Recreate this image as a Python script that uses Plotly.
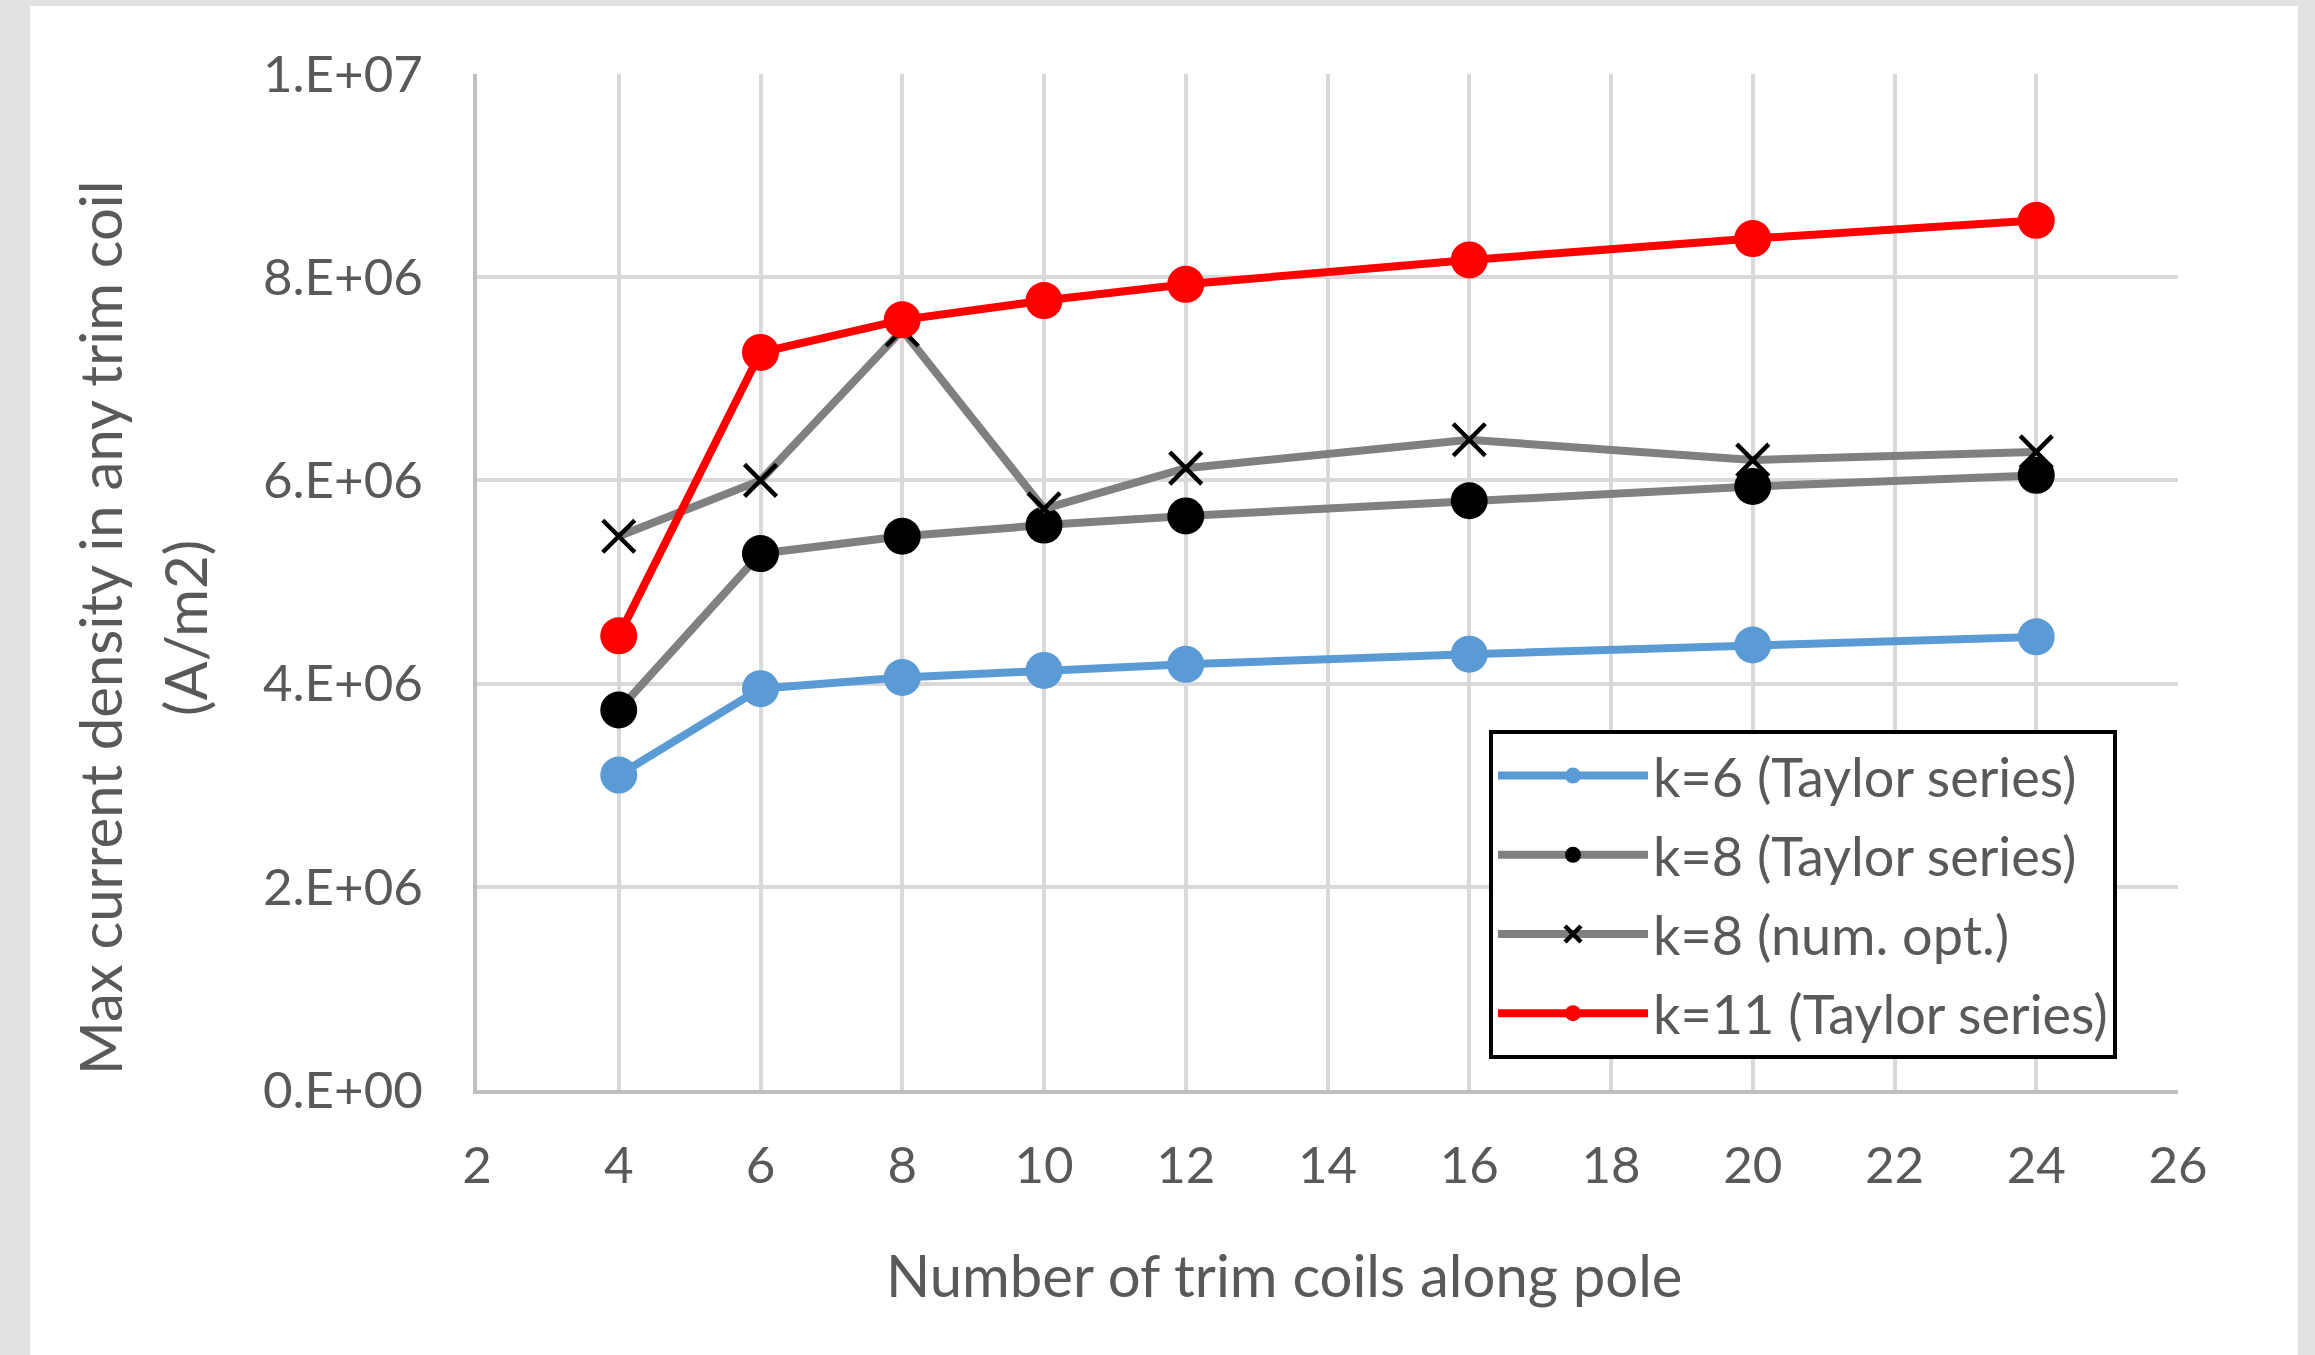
import plotly.graph_objects as go

coils = [4, 6, 8, 10, 12, 16, 20, 24]
k6_taylor = [3.10e6, 3.95e6, 4.06e6, 4.13e6, 4.19e6, 4.29e6, 4.38e6, 4.46e6]
k8_taylor = [3.74e6, 5.28e6, 5.45e6, 5.56e6, 5.65e6, 5.80e6, 5.94e6, 6.05e6]
k8_numopt = [5.45e6, 6.00e6, 7.48e6, 5.72e6, 6.12e6, 6.40e6, 6.20e6, 6.28e6]
k11_taylor = [4.47e6, 7.26e6, 7.58e6, 7.77e6, 7.93e6, 8.17e6, 8.38e6, 8.56e6]

y_tickvals = [0, 2e6, 4e6, 6e6, 8e6, 1e7]
y_ticktext = ["0.E+00", "2.E+06", "4.E+06", "6.E+06", "8.E+06", "1.E+07"]
x_tickvals = list(range(2, 27, 2))

FONT = "Lato"
TXT = "#595959"

W, H = 2315, 1355
L, R, T, B = 477, 2178, 74, 1090

fig = go.Figure()

series = [
    ("k=6 (Taylor series)", k6_taylor, "#5b9bd5", "#5b9bd5", "circle"),
    ("k=8 (Taylor series)", k8_taylor, "#808080", "#000000", "circle"),
    ("k=8 (num. opt.)", k8_numopt, "#808080", "#000000", "x-thin"),
    ("k=11 (Taylor series)", k11_taylor, "#ff0000", "#ff0000", "circle"),
]
for i, (name, vals, lc, mc, sym) in enumerate(series):
    if sym == "x-thin":
        marker = dict(symbol="x-thin", size=32, color=mc, line=dict(color=mc, width=4.5))
    else:
        marker = dict(symbol="circle", size=37, color=mc, line=dict(width=0))
    fig.add_trace(go.Scatter(
        x=coils, y=vals, name=name, mode="lines+markers",
        line=dict(color=lc, width=8), marker=marker,
        legendgroup=f"g{i}",
    ))

def px_x(p):
    return (p - L) / (R - L)

def px_y(p):
    return (B - p) / (B - T)

fig.add_shape(type="rect", xref="paper", yref="paper",
              x0=px_x(30), x1=px_x(2298), y0=px_y(1400), y1=px_y(6),
              fillcolor="white", line=dict(width=0), layer="below")

TITLE_SIZE = 58
fig.add_annotation(text="Max current density in any trim coil", xref="paper", yref="paper",
                   x=px_x(100), y=px_y(628), textangle=-90, showarrow=False,
                   font=dict(family=FONT, size=TITLE_SIZE, color=TXT), xanchor="center", yanchor="middle")
fig.add_annotation(text="(A/m2)", xref="paper", yref="paper",
                   x=px_x(185), y=px_y(628), textangle=-90, showarrow=False,
                   font=dict(family=FONT, size=TITLE_SIZE, color=TXT), xanchor="center", yanchor="middle")
fig.add_annotation(text="Number of trim coils along pole", xref="paper", yref="paper",
                   x=px_x(1284), y=px_y(1274), showarrow=False,
                   font=dict(family=FONT, size=TITLE_SIZE, color=TXT), xanchor="center", yanchor="middle")

fig.update_layout(
    width=W, height=H,
    margin=dict(l=L, r=W - R, t=T, b=H - B),
    paper_bgcolor="#e1e1e1",
    plot_bgcolor="white",
    showlegend=True,
    legend=dict(
        x=px_x(1489), y=px_y(730), xanchor="left", yanchor="top",
        bgcolor="white", bordercolor="black", borderwidth=4,
        font=dict(family=FONT, size=54, color=TXT),
        itemsizing="trace", tracegroupgap=6, itemwidth=150,
    ),
    xaxis=dict(
        range=[2, 26], tickvals=x_tickvals, showgrid=True, gridcolor="#d9d9d9", gridwidth=4,
        showline=True, linecolor="#bfbfbf", linewidth=4, zeroline=False,
        tickfont=dict(family=FONT, size=51, color=TXT), ticks="", ticklabelstandoff=28,
    ),
    yaxis=dict(
        range=[0, 1e7], tickvals=y_tickvals, ticktext=y_ticktext, showgrid=True,
        gridcolor="#d9d9d9", gridwidth=4, showline=True, linecolor="#bfbfbf", linewidth=4,
        zeroline=False, tickfont=dict(family=FONT, size=51, color=TXT), ticks="",
        ticklabelstandoff=40,
    ),
)

fig.write_html("out.html")
